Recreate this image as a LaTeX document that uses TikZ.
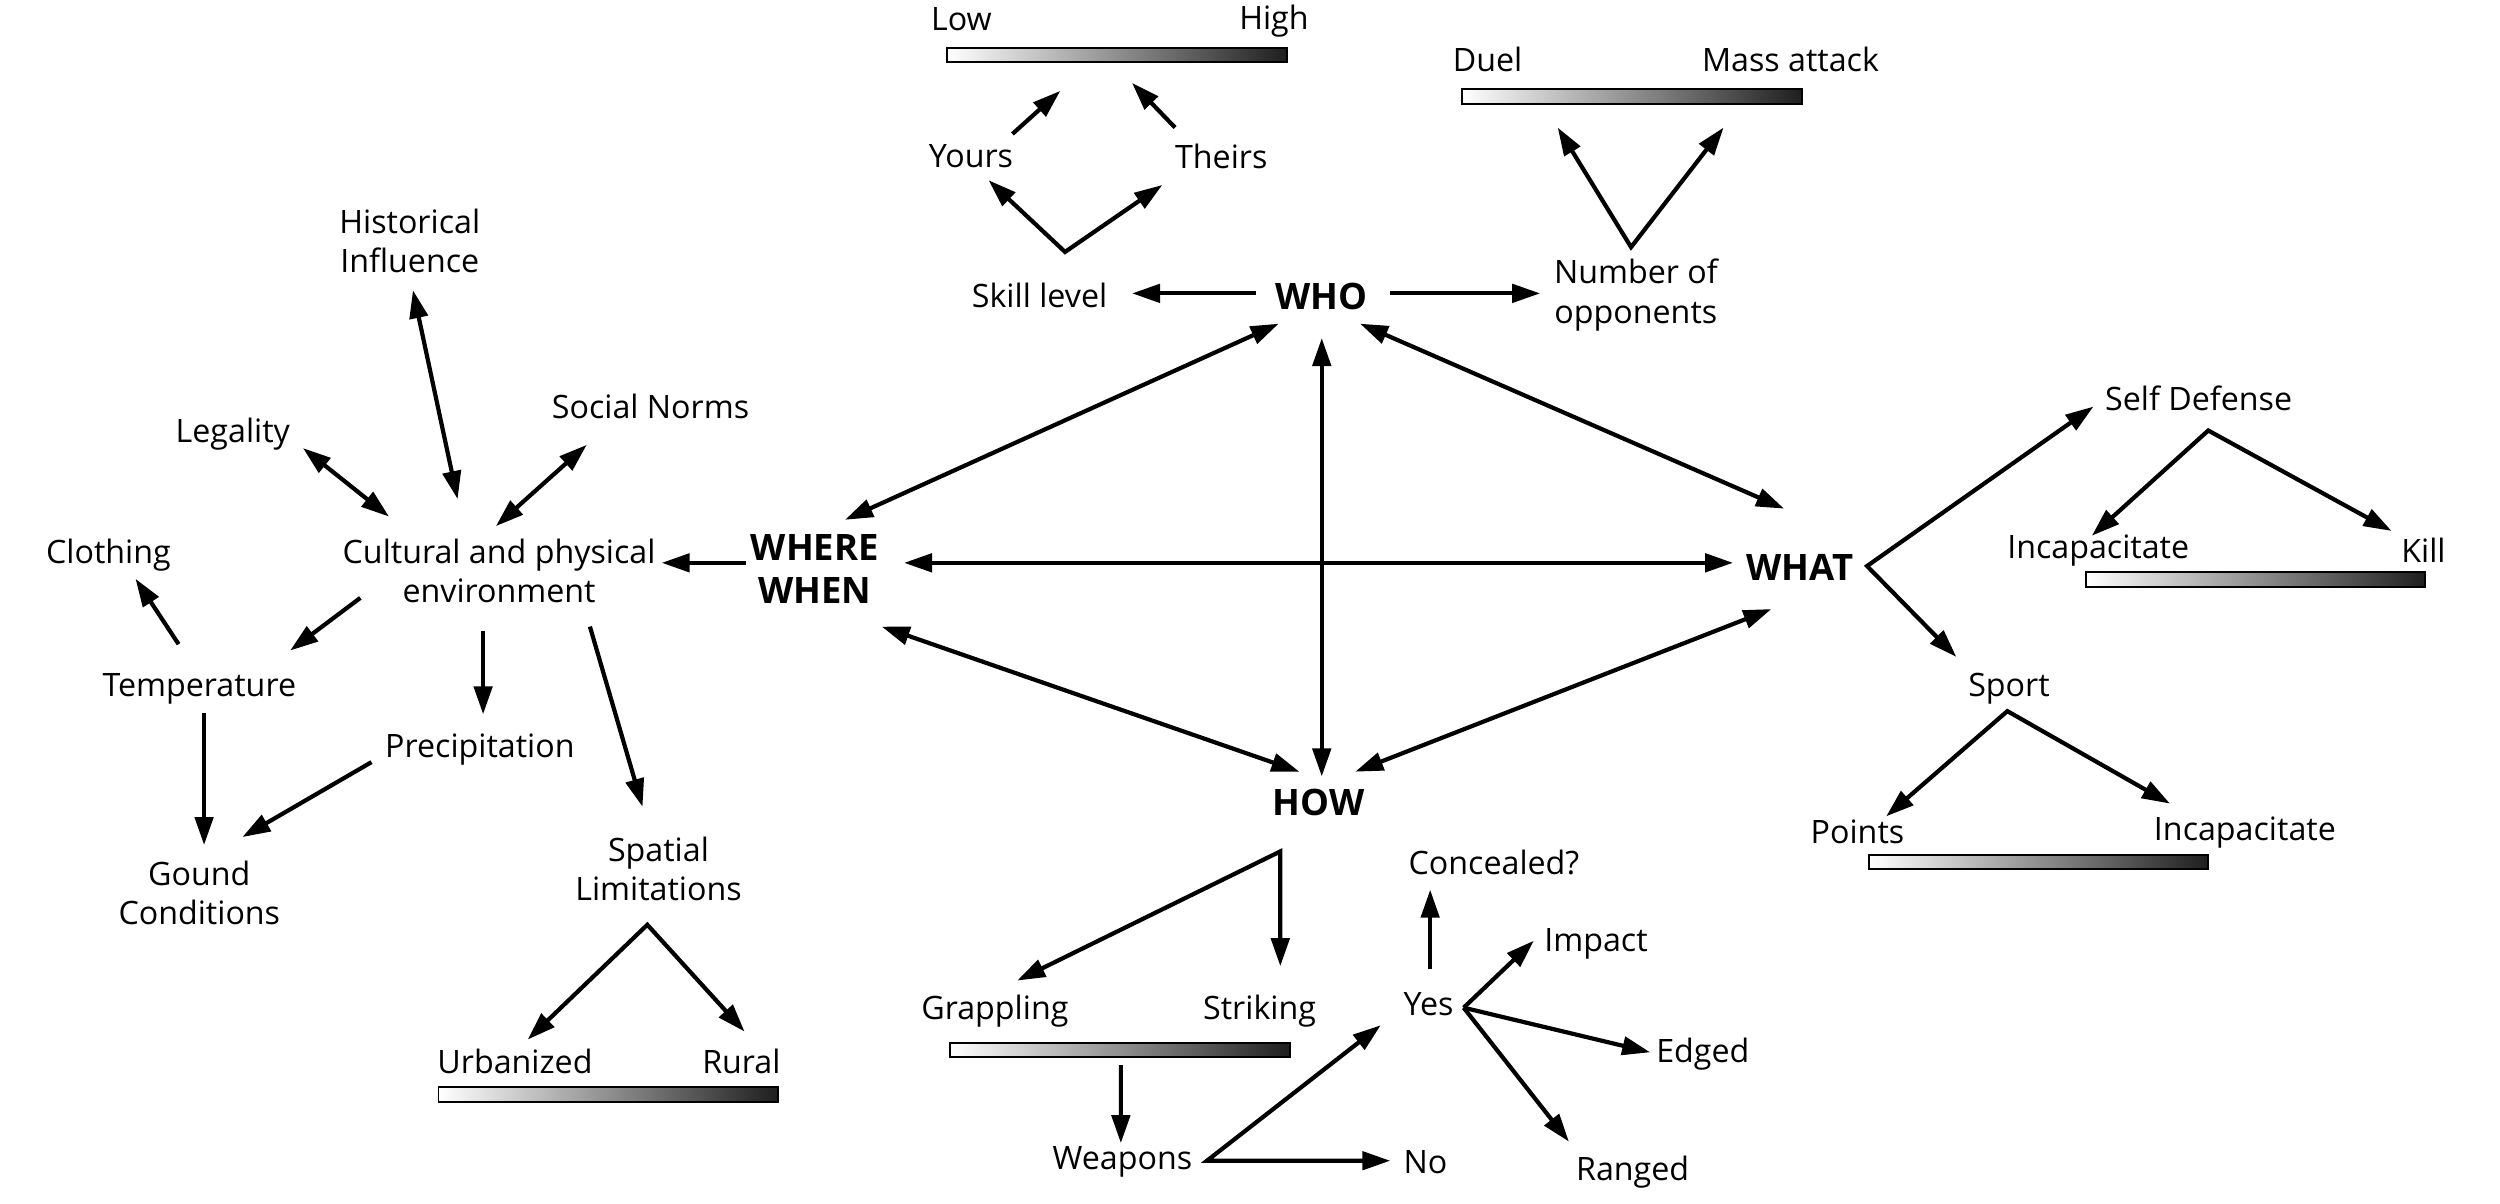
\documentclass[tikz,border=0pt]{standalone}
\usepackage{fontspec}
\setmainfont{Open Sans}
\usetikzlibrary{arrows.meta,calc}
\tikzset{
  lbl/.style={font=\fontsize{11.5}{14}\selectfont,align=center,inner sep=1pt},
  hub/.style={font=\bfseries\fontsize{13}{15.5}\selectfont,align=center,inner sep=1pt},
  scalebar/.style={draw,line width=0.7pt,left color=white,right color=black!88,
    minimum width=4.26cm,minimum height=0.18cm,inner sep=0pt},
  arr/.style={-{Triangle[length=10pt,width=6.5pt]},line width=1.5pt},
  dbl/.style={{Triangle[length=10pt,width=6.5pt]}-{Triangle[length=10pt,width=6.5pt]},line width=1.5pt}
}
\begin{document}
\begin{tikzpicture}[x=0.02cm,y=-0.02cm]
  \useasboundingbox (0,0) rectangle (1568,755);

  % who
  \node[hub] (who) at (829,186) {WHO};
  \node[lbl] (skill) at (652,185) {Skill level};
  \node[lbl] (yours) at (609,98) {Yours};
  \node[lbl] (theirs) at (766,98) {Theirs};
  \node[scalebar] (skillbar) at (700.5,34.5) {};
  \node[lbl] (low) at (603,12) {Low};
  \node[lbl] (high) at (799,13) {High};
  \node[lbl] (opp) at (1026,185) {Number of\\opponents};
  \node[scalebar] (oppbar) at (1023.5,60.5) {};
  \node[lbl] (duel) at (933,37) {Duel};
  \node[lbl] (mass) at (1123,37) {Mass attack};

  % where / when
  \node[hub] (where) at (511,357) {WHERE\\WHEN};
  \node[lbl] (cult) at (313,358) {Cultural and physical\\environment};
  \node[lbl] (hist) at (257,151) {Historical\\Influence};
  \node[lbl] (legal) at (146,272) {Legality};
  \node[lbl] (social) at (408,255) {Social Norms};
  \node[lbl] (cloth) at (68,348) {Clothing};
  \node[lbl] (temp) at (125,432) {Temperature};
  \node[lbl] (precip) at (301,470) {Precipitation};
  \node[lbl] (spatial) at (413,545) {Spatial\\Limitations};
  \node[lbl] (ground) at (125,560) {Gound\\Conditions};
  \node[lbl] (urban) at (323,666) {Urbanized};
  \node[lbl] (rural) at (465,666) {Rural};
  \node[scalebar] (spacebar) at (381.5,686.5) {};

  % what
  \node[hub] (what) at (1129,356) {WHAT};
  \node[lbl] (selfdef) at (1379,250) {Self Defense};
  \node[lbl] (incapA) at (1316,345) {Incapacitate};
  \node[lbl] (kill) at (1520,345) {Kill};
  \node[scalebar] (defbar) at (1414.5,363.5) {};
  \node[lbl] (sport) at (1260,432) {Sport};
  \node[lbl] (points) at (1165,522) {Points};
  \node[lbl] (incapB) at (1408,522) {Incapacitate};
  \node[scalebar] (sportbar) at (1278.5,540.5) {};

  % how
  \node[hub] (how) at (827,503) {HOW};
  \node[lbl] (grap) at (624,634) {Grappling};
  \node[lbl] (strike) at (790,634) {Striking};
  \node[scalebar] (fightbar) at (702.5,658.5) {};
  \node[lbl] (weap) at (704,729) {Weapons};
  \node[lbl] (no) at (894,729) {No};
  \node[lbl] (yes) at (896,630) {Yes};
  \node[lbl] (conc) at (937,541) {Concealed?};
  \node[lbl] (impact) at (1001,592) {Impact};
  \node[lbl] (edged) at (1068,661) {Edged};
  \node[lbl] (ranged) at (1024,735) {Ranged};

  % vertices of the forks
  \coordinate (skillv) at ($(skill)+(16,-27)$);
  \coordinate (oppv) at ($(opp)+(-3,-30)$);
  \coordinate (spatialv) at ($(spatial)+(-7,35)$);
  \coordinate (whatv) at ($(what)+(42,-1)$);
  \coordinate (defv) at ($(selfdef)+(6,20)$);
  \coordinate (sportv) at ($(sport)+(-1,14)$);
  \coordinate (howv) at ($(how)+(-24,31)$);
  \coordinate (weapv) at ($(weap)+(53,-1)$);
  \coordinate (yesv) at ($(yes)+(22,2)$);

  % hub links
  \draw[dbl] ($(who)+(-27,17)$) -- ($(where)+(19,-31)$);
  \draw[dbl] ($(who)+(24,17)$) -- ($(what)+(-10,-37)$);
  \draw[dbl] ($(who)+(0,26)$) -- ($(how)+(2,-16)$);
  \draw[dbl] ($(where)+(56,-4)$) -- ($(what)+(-42,-3)$);
  \draw[dbl] ($(where)+(42,36)$) -- ($(how)+(-12,-19)$);
  \draw[dbl] ($(how)+(23,-19)$) -- ($(what)+(-18,26)$);

  % who branch
  \draw[arr] ($(who)+(-41,-2)$) -- ($(skill)+(58,-1)$);
  \draw[arr] ($(who)+(43,-2)$) -- ($(opp)+(-60,-1)$);
  \draw[dbl] ($(yours)+(11,15)$) -- (skillv) -- ($(theirs)+(-37,18)$);
  \draw[arr] ($(yours)+(26,-14)$) -- ($(skillbar)+(-35.5,22.5)$);
  \draw[arr] ($(theirs)+(-29,-18)$) -- ($(skillbar)+(9.5,17.5)$);
  \draw[dbl] ($(oppbar)+(-46.5,19.5)$) -- (oppv) -- ($(oppbar)+(57.5,19.5)$);

  % where branch
  \draw[arr] ($(where)+(-43,-4)$) -- ($(cult)+(102,-5)$);
  \draw[dbl] ($(hist)+(2,31)$) -- ($(cult)+(-26,-45)$);
  \draw[dbl] ($(legal)+(44,9)$) -- ($(cult)+(-69,-34)$);
  \draw[dbl] ($(social)+(-40,24)$) -- ($(cult)+(-2,-28)$);
  \draw[arr] ($(cult)+(-87,17)$) -- ($(temp)+(57,-24)$);
  \draw[arr] ($(temp)+(-13,-28)$) -- ($(cloth)+(17,15)$);
  \draw[arr] ($(cult)+(-10,38)$) -- ($(precip)+(2,-22)$);
  \draw[arr] ($(cult)+(57,35)$) -- ($(spatial)+(-10,-39)$);
  \draw[arr] ($(temp)+(3,15)$) -- ($(ground)+(3,-30)$);
  \draw[arr] ($(precip)+(-68,8)$) -- ($(ground)+(27,-35)$);
  \draw[dbl] ($(urban)+(8,-14)$) -- (spatialv) -- ($(rural)+(2,-19)$);

  % what branch
  \draw[dbl] ($(selfdef)+(-66,5)$) -- (whatv) -- ($(sport)+(-33,-20)$);
  \draw[dbl] ($(incapA)+(-4,-9)$) -- (defv) -- ($(kill)+(-20,-12)$);
  \draw[dbl] ($(points)+(18,-10)$) -- (sportv) -- ($(incapB)+(-47,-18)$);

  % how branch
  \draw[dbl] ($(grap)+(14,-19)$) -- (howv) -- ($(strike)+(13,-28)$);
  \draw[arr] ($(fightbar)+(0.5,9.5)$) -- ($(weap)+(-1,-12)$);
  \draw[dbl] ($(yes)+(-30,13)$) -- (weapv) -- ($(no)+(-22,-1)$);
  \draw[arr] ($(yes)+(1,-22)$) -- ($(conc)+(-40,17)$);
  \draw[arr] (yesv) -- ($(impact)+(-39,-2)$);
  \draw[arr] (yesv) -- ($(edged)+(-33,-1)$);
  \draw[arr] (yesv) -- ($(ranged)+(-40,-19)$);
\end{tikzpicture}
\end{document}
